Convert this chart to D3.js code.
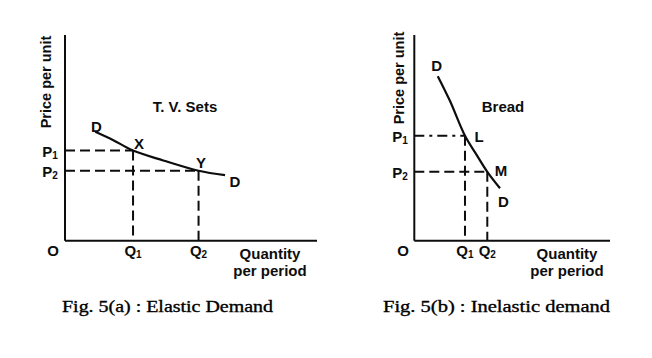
<!DOCTYPE html>
<html>
<head>
<meta charset="utf-8">
<script src="https://cdn.jsdelivr.net/npm/d3@7"></script>
<style>
html,body{margin:0;padding:0;background:#fff;}
svg{display:block;}
</style>
</head>
<body>
<svg id="chart" width="652" height="358"></svg>
<script>
// ---- data (quantity, price) in abstract units 0..10 ----
const panels = ["a", "b"];
const titles = ["T. V. Sets", "Bread"];
const captions = ["Fig. 5(a) : Elastic Demand", "Fig. 5(b) : Inelastic demand"];
const curveA = [[1.2, 5.3], [1.9, 4.9], [2.7, 4.38], [3.9, 3.9], [5.3, 3.4], [6.35, 3.19]];
const curveB = [[1.2, 8.0], [1.82, 6.8], [2.59, 5.1], [3.2, 4.15], [3.73, 3.35], [4.38, 2.55]];
const pricesA = [4.38, 3.4];     // P1, P2
const quantitiesA = [2.7, 5.3];  // Q1, Q2
const pricesB = [5.1, 3.35];
const quantitiesB = [2.59, 3.73];
const pointLabelsA = ["X", "Y"];
const pointLabelsB = ["L", "M"];
const axisTitleY = "Price per unit";
const axisTitleX = ["Quantity", "per period"];

const svg = d3.select("#chart");
const sans = "'Liberation Sans', Arial, sans-serif";
const serif = "'Liberation Serif', 'Times New Roman', serif";
const ink = "#0d0d0d";

function drawPanel(cfg) {
  const x = d3.scaleLinear().domain([0, 10]).range([cfg.x0, cfg.x1]);
  const y = d3.scaleLinear().domain([0, 10]).range([240.7, 35]);
  const g = svg.append("g");

  // axes
  g.append("line").attr("x1", x(0)).attr("x2", x(0)).attr("y1", y(10)).attr("y2", y(0))
    .attr("stroke", ink).attr("stroke-width", 2);
  g.append("line").attr("x1", x(0)).attr("x2", x(10)).attr("y1", y(0)).attr("y2", y(0))
    .attr("stroke", ink).attr("stroke-width", 2);

  // dashed guides
  cfg.prices.forEach((p, i) => {
    const q = cfg.quantities[i];
    g.append("line").attr("x1", x(0)).attr("x2", x(q)).attr("y1", y(p)).attr("y2", y(p))
      .attr("stroke", ink).attr("stroke-width", 2)
      .attr("stroke-dasharray", (cfg.dashDot && i === 0) ? "10,5,3,5" : "10,5");
    g.append("line").attr("x1", x(q)).attr("x2", x(q)).attr("y1", y(p)).attr("y2", y(0))
      .attr("stroke", ink).attr("stroke-width", 2).attr("stroke-dasharray", "10,5");
  });

  // demand curve
  const line = d3.line().x(d => x(d[0])).y(d => y(d[1])).curve(d3.curveCatmullRom);
  g.append("path").datum(cfg.curve).attr("d", line)
    .attr("fill", "none").attr("stroke", ink).attr("stroke-width", 2.2);

  const lbl = (tx, ty, t, size, anchor) => g.append("text").attr("x", tx).attr("y", ty)
    .attr("text-anchor", anchor || "middle").attr("dominant-baseline", "central")
    .attr("font-family", sans).attr("font-weight", "bold").attr("font-size", size || 15)
    .attr("fill", ink).text(t);

  // D labels
  lbl(cfg.dStart[0], cfg.dStart[1], "D");
  lbl(cfg.dEnd[0], cfg.dEnd[1], "D");
  cfg.pointLabels.forEach((t, i) => lbl(cfg.ptPos[i][0], cfg.ptPos[i][1], t));

  // P labels with subscripts
  cfg.prices.forEach((p, i) => {
    const t = g.append("text").attr("x", cfg.pX).attr("y", y(p)).attr("dominant-baseline", "central")
      .attr("text-anchor", "middle")
      .attr("font-family", sans).attr("font-weight", "bold").attr("font-size", 15).attr("fill", ink);
    t.append("tspan").text("P");
    t.append("tspan").attr("font-size", 10).attr("dy", 4).text(i + 1);
  });
  // Q labels
  cfg.quantities.forEach((q, i) => {
    const t = g.append("text").attr("x", x(q)).attr("y", 250).attr("dominant-baseline", "central")
      .attr("text-anchor", "middle")
      .attr("font-family", sans).attr("font-weight", "bold").attr("font-size", 15).attr("fill", ink);
    t.append("tspan").text("Q");
    t.append("tspan").attr("font-size", 10).attr("dy", 4).text(i + 1);
  });
  lbl(cfg.oX, 250, "O");
  lbl(cfg.qtX, 253, axisTitleX[0]);
  lbl(cfg.qtX, 270, axisTitleX[1]);
  lbl(cfg.title[0], cfg.title[1], cfg.titleText);

  g.append("text").attr("transform", `translate(${cfg.yTitleX},${cfg.yTitleY}) rotate(-90)`)
    .attr("text-anchor", "middle").attr("dominant-baseline", "central")
    .attr("font-family", sans).attr("font-weight", "bold").attr("font-size", 14.5).attr("fill", ink)
    .text(axisTitleY);

  g.append("text").attr("x", cfg.capX).attr("y", 306).attr("dominant-baseline", "central")
    .attr("font-family", serif).attr("font-size", 17).attr("fill", "#000")
    .attr("stroke", "#000").attr("stroke-width", 0.35)
    .attr("textLength", cfg.capW).attr("lengthAdjust", "spacingAndGlyphs")
    .text(cfg.caption);
}

drawPanel({
  x0: 65, x1: 317, curve: curveA, prices: pricesA, quantities: quantitiesA,
  pointLabels: pointLabelsA, ptPos: [[139, 143], [201, 162.5]],
  dStart: [96.5, 126.5], dEnd: [235, 181], pX: 50, oX: 53, qtX: 270,
  title: [185, 106], titleText: titles[0], yTitleX: 46, yTitleY: 82,
  capX: 62, capW: 211, caption: captions[0]
});
drawPanel({
  x0: 414.3, x1: 610, curve: curveB, prices: pricesB, quantities: quantitiesB,
  pointLabels: pointLabelsB, ptPos: [[479, 136.7], [501, 170]], dashDot: true,
  dStart: [436.7, 65], dEnd: [503.3, 201.7], pX: 400, oX: 403, qtX: 567,
  title: [503, 106], titleText: titles[1], yTitleX: 399, yTitleY: 78,
  capX: 383, capW: 227, caption: captions[1]
});
</script>
</body>
</html>
